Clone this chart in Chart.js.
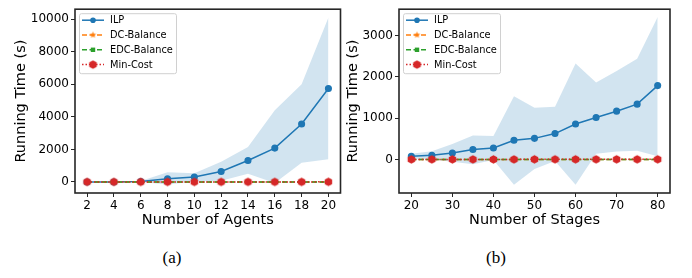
<!DOCTYPE html>
<html>
<head>
<meta charset="utf-8">
<script src="https://cdn.jsdelivr.net/npm/chart.js@4.4.1/dist/chart.umd.min.js"></script>
<style>
  body { margin: 0; background: #fff; width: 692px; height: 278px; position: relative; overflow: hidden; }
  canvas { position: absolute; top: 0; }
  .cap { position: absolute; font-family: "Liberation Serif", serif; font-size: 17px; color: #000; transform: translate(-50%, -50%); }
</style>
</head>
<body>
<canvas id="agentsChart" width="346" height="230" style="left:0px"></canvas>
<canvas id="stagesChart" width="352" height="230" style="left:340px"></canvas>
<div class="cap" style="left:172px; top:258px">(a)</div>
<div class="cap" style="left:496px; top:258px">(b)</div>
<script>
// (a) running time vs number of agents
const agents = [2, 4, 6, 8, 10, 12, 14, 16, 18, 20];
const ilpAgents = [0, 0, 30, 200, 300, 640, 1320, 2080, 3560, 5740];
const ilpAgentsHigh = [0, 0, 60, 600, 540, 1240, 2140, 4400, 6000, 10100];
const ilpAgentsLow = [0, 0, 0, -160, 20, 80, 500, -60, 1180, 1400];
const dcAgents = [0.1, 0.1, 0.2, 0.3, 0.4, 0.5, 0.7, 0.9, 1.1, 1.4];
const edcAgents = [0.1, 0.1, 0.2, 0.3, 0.5, 0.6, 0.8, 1.0, 1.3, 1.6];
const minCostAgents = [0.1, 0.2, 0.4, 0.6, 0.9, 1.3, 1.8, 2.4, 3.1, 4.0];
const agentTicksX = [2, 4, 6, 8, 10, 12, 14, 16, 18, 20];
const agentTicksY = [0, 2000, 4000, 6000, 8000, 10000];

// (b) running time vs number of stages
const stages = [20, 25, 30, 35, 40, 45, 50, 55, 60, 65, 70, 75, 80];
const ilpStages = [77, 100, 155, 240, 278, 464, 510, 626, 858, 1013, 1168, 1338, 1786];
const ilpStagesHigh = [140, 200, 371, 580, 565, 1531, 1253, 1276, 2320, 1864, 2142, 2436, 3449];
const ilpStagesLow = [23, 0, -54, -116, -15, -611, -232, -39, -611, 139, 193, 209, 77];
const dcStages = [0.2, 0.3, 0.3, 0.4, 0.5, 0.6, 0.7, 0.8, 0.9, 1.0, 1.1, 1.2, 1.3];
const edcStages = [0.2, 0.3, 0.4, 0.5, 0.6, 0.7, 0.8, 0.9, 1.0, 1.1, 1.2, 1.4, 1.5];
const minCostStages = [0.5, 0.7, 0.9, 1.1, 1.3, 1.5, 1.7, 1.9, 2.1, 2.3, 2.5, 2.7, 2.9];
const stageTicksX = [20, 30, 40, 50, 60, 70, 80];
const stageTicksY = [0, 1000, 2000, 3000];

const seriesNames = ['ILP', 'DC-Balance', 'EDC-Balance', 'Min-Cost'];

const BLUE = '#1f77b4', ORANGE = '#ff7f0e', GREEN = '#2ca02c', RED = '#d62728';
const FONT = '"DejaVu Sans", sans-serif';

// little marker images for the matplotlib shapes chart.js lacks
function starMarker(color, r) {
  const c = document.createElement('canvas');
  c.width = c.height = Math.ceil(r * 2 + 2);
  const g = c.getContext('2d');
  const m = c.width / 2;
  g.beginPath();
  for (let i = 0; i < 10; i++) {
    const rad = i % 2 === 0 ? r : r * 0.45;
    const a = -Math.PI / 2 + i * Math.PI / 5;
    g.lineTo(m + rad * Math.cos(a), m + rad * Math.sin(a));
  }
  g.closePath();
  g.fillStyle = color;
  g.fill();
  return c;
}

function hexMarker(color, r) {
  const c = document.createElement('canvas');
  c.width = c.height = Math.ceil(r * 2 + 2);
  const g = c.getContext('2d');
  const m = c.width / 2;
  g.beginPath();
  for (let i = 0; i < 6; i++) {
    const a = -Math.PI / 2 + i * Math.PI / 3;
    g.lineTo(m + r * Math.cos(a), m + r * Math.sin(a));
  }
  g.closePath();
  g.fillStyle = color;
  g.fill();
  return c;
}

const starImg = starMarker(ORANGE, 3.5);
const hexImg = hexMarker(RED, 4.3);

function pts(xs, ys) {
  return xs.map((x, i) => ({ x: x, y: ys[i] }));
}

function makeDatasets(xs, ilp, hi, lo, dc, edc, mc) {
  return [
    { label: seriesNames[0], data: pts(xs, ilp), borderColor: BLUE, backgroundColor: BLUE,
      borderWidth: 1.5, pointRadius: 2.8, pointStyle: 'circle', order: 3, fill: false },
    { label: seriesNames[1], data: pts(xs, dc), borderColor: ORANGE, backgroundColor: ORANGE,
      borderWidth: 1.5, borderDash: [5, 2.5], pointStyle: starImg, order: 2, fill: false },
    { label: seriesNames[2], data: pts(xs, edc), borderColor: GREEN, backgroundColor: GREEN,
      borderWidth: 1.5, borderDash: [5, 2.5], pointRadius: 2.2, pointStyle: 'rect', order: 1, fill: false },
    { label: seriesNames[3], data: pts(xs, mc), borderColor: RED, backgroundColor: RED,
      borderWidth: 1.5, borderDash: [1.5, 2], pointStyle: hexImg, order: 0, fill: false },
    { label: 'hi', data: pts(xs, hi), borderWidth: 0, pointRadius: 0, borderColor: 'rgba(0,0,0,0)',
      backgroundColor: 'rgba(31,119,180,0.2)', fill: 5, order: 4 },
    { label: 'lo', data: pts(xs, lo), borderWidth: 0, pointRadius: 0, borderColor: 'rgba(0,0,0,0)',
      fill: false, order: 5 }
  ];
}

// box round the plot and the matplotlib style legend
const framePlugin = {
  id: 'frame',
  afterDatasetsDraw(chart) {
    const { ctx, chartArea: a } = chart;
    ctx.save();
    ctx.strokeStyle = '#262626';
    ctx.lineWidth = 1.6;
    ctx.strokeRect(a.left, a.top, a.right - a.left, a.bottom - a.top);

    const bx = a.left + 4, by = a.top + 4, bw = 97, bh = 60;
    ctx.fillStyle = 'rgba(255,255,255,0.85)';
    ctx.strokeStyle = '#d0d0d0';
    ctx.lineWidth = 1;
    ctx.beginPath();
    ctx.roundRect(bx + 0.5, by + 0.5, bw, bh, 2);
    ctx.fill();
    ctx.stroke();

    ctx.font = '9.8px ' + FONT;
    ctx.textBaseline = 'middle';
    chart.data.datasets.slice(0, 4).forEach((ds, i) => {
      const y = by + 7 + i * 14.8;
      const x0 = bx + 3, x1 = bx + 25, xm = (x0 + x1) / 2;
      ctx.strokeStyle = ds.borderColor;
      ctx.lineWidth = ds.borderWidth;
      ctx.setLineDash(ds.borderDash || []);
      ctx.beginPath();
      ctx.moveTo(x0, y);
      ctx.lineTo(x1, y);
      ctx.stroke();
      ctx.setLineDash([]);
      ctx.fillStyle = ds.backgroundColor;
      if (ds.pointStyle === 'circle') {
        ctx.beginPath();
        ctx.arc(xm, y, 2.8, 0, Math.PI * 2);
        ctx.fill();
      } else if (ds.pointStyle === 'rect') {
        ctx.fillRect(xm - 2.2, y - 2.2, 4.4, 4.4);
      } else {
        const img = ds.pointStyle;
        ctx.drawImage(img, xm - img.width / 2, y - img.height / 2);
      }
      ctx.fillStyle = '#000';
      ctx.fillText(ds.label, bx + 31, y + 0.5);
    });
    ctx.restore();
  }
};

function makeChart(id, datasets, opts) {
  return new Chart(document.getElementById(id), {
    type: 'line',
    data: { datasets: datasets },
    options: {
      responsive: false,
      animation: false,
      devicePixelRatio: 1,
      layout: { padding: opts.padding },
      plugins: { legend: { display: false }, tooltip: { enabled: false } },
      elements: { line: { tension: 0 } },
      scales: {
        x: {
          type: 'linear', min: opts.xMin, max: opts.xMax,
          afterBuildTicks: s => { s.ticks = opts.xTicks.map(v => ({ value: v })); },
          afterFit: s => { s.height = 37; },
          grid: { drawOnChartArea: false, drawTicks: true, tickLength: 4, color: '#262626' },
          border: { display: false },
          ticks: { color: '#000', padding: 2, font: { family: FONT, size: 12 }, maxRotation: 0,
                   callback: v => String(v) },
          title: { display: true, text: opts.xTitle, color: '#000',
                   font: { family: FONT, size: 14.5 }, padding: { top: 0, bottom: 1.5 } }
        },
        y: {
          type: 'linear', min: opts.yMin, max: opts.yMax,
          afterBuildTicks: s => { s.ticks = opts.yTicks.map(v => ({ value: v })); },
          afterFit: s => { s.width = opts.yWidth; },
          grid: { drawOnChartArea: false, drawTicks: true, tickLength: 4, color: '#262626' },
          border: { display: false },
          ticks: { color: '#000', padding: 2, font: { family: FONT, size: 12 },
                   callback: v => String(v) },
          title: { display: true, text: 'Running Time (s)', color: '#000',
                   font: { family: FONT, size: 14.5 }, padding: { top: opts.yTitlePad, bottom: 0 } }
        }
      }
    },
    plugins: [framePlugin]
  });
}

makeChart('agentsChart',
  makeDatasets(agents, ilpAgents, ilpAgentsHigh, ilpAgentsLow, dcAgents, edcAgents, minCostAgents),
  { padding: { left: 0, right: 4, top: 5, bottom: 0 }, yWidth: 75,
    xMin: 1.1, xMax: 20.9, yMin: -680, yMax: 10613,
    xTicks: agentTicksX, yTicks: agentTicksY, xTitle: 'Number of Agents', yTitlePad: 13 });

makeChart('stagesChart',
  makeDatasets(stages, ilpStages, ilpStagesHigh, ilpStagesLow, dcStages, edcStages, minCostStages),
  { padding: { left: 0, right: 22, top: 1, bottom: 0 }, yWidth: 59,
    xMin: 17, xMax: 83, yMin: -812, yMax: 3635,
    xTicks: stageTicksX, yTicks: stageTicksY, xTitle: 'Number of Stages', yTitlePad: 5 });
</script>
</body>
</html>
